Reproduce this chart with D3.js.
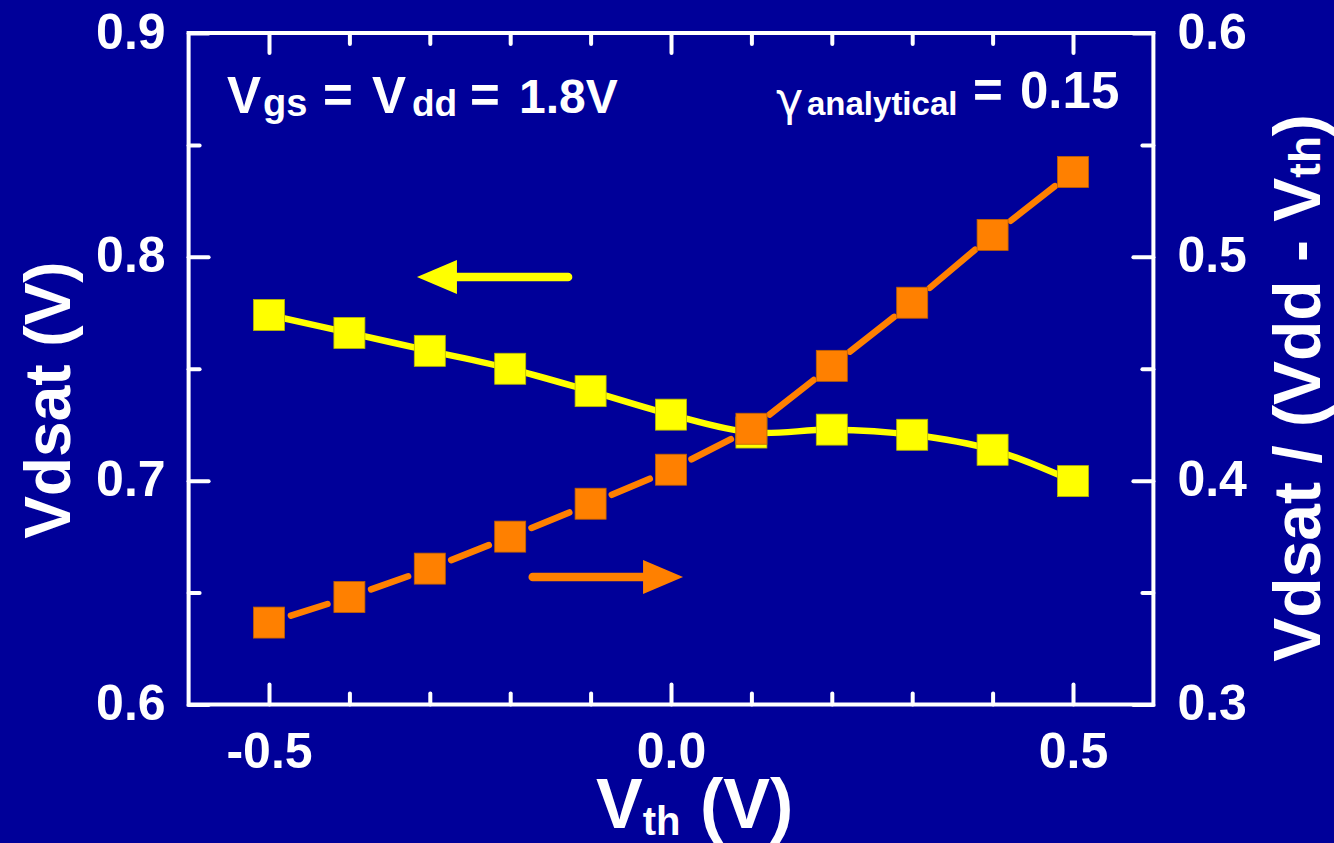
<!DOCTYPE html>
<html>
<head>
<meta charset="utf-8">
<script src="https://cdn.jsdelivr.net/npm/d3@7"></script>
<style>
  html, body { margin: 0; padding: 0; background: #000099; }
  svg { display: block; }
  text { font-family: Arial, "Liberation Sans", sans-serif; font-weight: bold; fill: #fff; }
</style>
</head>
<body>
<div id="chart"></div>
<script>
const WIDTH  = 1334;
const HEIGHT = 843;

// data
const vth      = [-0.5, -0.4, -0.3, -0.2, -0.1, 0.0, 0.1, 0.2, 0.3, 0.4, 0.5];
const vdsat    = [0.774, 0.766, 0.758, 0.750, 0.740, 0.7295, 0.7215, 0.7228, 0.7205, 0.7138, 0.6998];
const vdsatRel = [0.3366, 0.348, 0.3607, 0.375, 0.3897, 0.4049, 0.4232, 0.4513, 0.4795, 0.5098, 0.5379];

const xMajor  = [-0.5, 0.0, 0.5];
const xMinor  = [-0.4, -0.3, -0.2, -0.1, 0.1, 0.2, 0.3, 0.4];
const yLMajor = [0.6, 0.7, 0.8, 0.9];
const yLMinor = [0.65, 0.75, 0.85];
const yRMajor = [0.3, 0.4, 0.5, 0.6];
const yRMinor = [0.35, 0.45, 0.55];

const BG     = "#000099";
const YELLOW = "#ffff00";
const ORANGE = "#ff8000";

const svg = d3.select("#chart").append("svg")
  .attr("width", WIDTH).attr("height", HEIGHT);

svg.append("rect").attr("width", WIDTH).attr("height", HEIGHT).attr("fill", BG);

const x  = d3.scaleLinear().domain([-0.6, 0.6]).range([188.6, 1153.4]);
const yL = d3.scaleLinear().domain([0.6, 0.9]).range([704.5, 33]);
const yR = d3.scaleLinear().domain([0.3, 0.6]).range([704.5, 33]);

const [x0, x1] = x.range();
const [y0, y1] = yL.range();

// axes: major + minor ticks on all sides, pointing inward
function styleAxis(g) {
  g.select(".domain").remove();
  g.selectAll(".tick line")
    .attr("stroke", "#fff")
    .attr("stroke-width", 4)
    .attr("stroke-linecap", "round");
  g.selectAll(".tick text")
    .attr("fill", "#fff")
    .style("font-size", "50px")
    .style("font-family", "Arial, 'Liberation Sans', sans-serif")
    .style("font-weight", "bold");
}
// plain hyphen instead of d3's unicode minus
const fmt = d => d3.format(".1f")(d).replace("\u2212", "-");

svg.append("g").attr("transform", `translate(0,${y0})`)
  .call(d3.axisBottom(x).tickValues(xMajor).tickSize(-20).tickPadding(28).tickFormat(fmt))
  .call(styleAxis);
svg.append("g").attr("transform", `translate(0,${y0})`)
  .call(d3.axisBottom(x).tickValues(xMinor).tickSize(-11).tickFormat(""))
  .call(styleAxis);
svg.append("g").attr("transform", `translate(0,${y1})`)
  .call(d3.axisTop(x).tickValues(xMajor).tickSize(-20).tickFormat(""))
  .call(styleAxis);
svg.append("g").attr("transform", `translate(0,${y1})`)
  .call(d3.axisTop(x).tickValues(xMinor).tickSize(-11).tickFormat(""))
  .call(styleAxis);

svg.append("g").attr("transform", `translate(${x0},0)`)
  .call(d3.axisLeft(yL).tickValues(yLMajor).tickSize(-20).tickPadding(23).tickFormat(fmt))
  .call(styleAxis);
svg.append("g").attr("transform", `translate(${x0},0)`)
  .call(d3.axisLeft(yL).tickValues(yLMinor).tickSize(-11).tickFormat(""))
  .call(styleAxis);
svg.append("g").attr("transform", `translate(${x1},0)`)
  .call(d3.axisRight(yR).tickValues(yRMajor).tickSize(-20).tickPadding(24).tickFormat(fmt))
  .call(styleAxis);
svg.append("g").attr("transform", `translate(${x1},0)`)
  .call(d3.axisRight(yR).tickValues(yRMinor).tickSize(-11).tickFormat(""))
  .call(styleAxis);

svg.selectAll(".tick text").attr("dy", "0.3em");
svg.selectAll("g").filter(function() { return d3.select(this).attr("transform") === `translate(0,${y0})`; })
  .selectAll(".tick text").attr("dy", "0.71em");

// frame
svg.append("rect")
  .attr("x", x0).attr("y", y1)
  .attr("width", x1 - x0).attr("height", y0 - y1)
  .attr("fill", "none").attr("stroke", "#fff").attr("stroke-width", 4);

const SQ = 31;

// yellow series (left axis) - smooth line through squares
const yellowPts = vth.map((v, i) => [x(v), yL(vdsat[i])]);
svg.append("path")
  .attr("d", d3.line().curve(d3.curveCatmullRom)(yellowPts))
  .attr("fill", "none").attr("stroke", YELLOW).attr("stroke-width", 6.5);
svg.append("g").selectAll("rect").data(yellowPts).join("rect")
  .attr("x", d => d[0] - SQ / 2).attr("y", d => d[1] - SQ / 2)
  .attr("width", SQ).attr("height", SQ)
  .attr("fill", YELLOW).attr("stroke", "#b8b800").attr("stroke-width", 0.8);

// orange series (right axis) - segments with a gap at each symbol
const orangePts = vth.map((v, i) => [x(v), yR(vdsatRel[i])]);
const GAP = 23;
const segs = d3.pairs(orangePts).map(([a, b]) => {
  const dx = b[0] - a[0], dy = b[1] - a[1];
  const len = Math.hypot(dx, dy);
  const ux = dx / len, uy = dy / len;
  return [[a[0] + ux * GAP, a[1] + uy * GAP], [b[0] - ux * GAP, b[1] - uy * GAP]];
});
svg.append("g").selectAll("path").data(segs).join("path")
  .attr("d", d => d3.line()(d))
  .attr("fill", "none").attr("stroke", ORANGE)
  .attr("stroke-width", 6.5).attr("stroke-linecap", "round");
svg.append("g").selectAll("rect").data(orangePts).join("rect")
  .attr("x", d => d[0] - SQ / 2).attr("y", d => d[1] - SQ / 2)
  .attr("width", SQ).attr("height", SQ)
  .attr("fill", ORANGE).attr("stroke", "#c06000").attr("stroke-width", 0.8);

// arrows pointing to each series' axis
function arrow(xa, xb, yp, color) {
  const ax = x(xa), bx = x(xb);
  const dir = Math.sign(bx - ax);
  const headLen = 40, headHalf = 17;
  svg.append("line")
    .attr("x1", ax).attr("y1", yp)
    .attr("x2", bx - dir * headLen + dir * 2).attr("y2", yp)
    .attr("stroke", color).attr("stroke-width", 8.5).attr("stroke-linecap", "round");
  svg.append("path")
    .attr("d", `M${bx},${yp} L${bx - dir * headLen},${yp - headHalf} L${bx - dir * headLen},${yp + headHalf} Z`)
    .attr("fill", color);
}
arrow(-0.128, -0.316, yL(0.791), YELLOW);
arrow(-0.172, 0.015, yR(0.357), ORANGE);

// annotations
const t1 = svg.append("text").attr("y", 113).style("font-size", "51px");
t1.append("tspan").attr("x", 227).text("V");
t1.append("tspan").attr("x", 263).attr("dy", 3).style("font-size", "38px").text("gs");
t1.append("tspan").attr("x", 323).attr("dy", -3).text("=");
t1.append("tspan").attr("x", 372).text("V");
t1.append("tspan").attr("x", 412).attr("dy", 3).style("font-size", "37px").text("dd");
t1.append("tspan").attr("x", 470).attr("dy", -3).text("=");
t1.append("tspan").attr("x", 519).style("font-size", "48px").text("1.8V");

const t2 = svg.append("text").attr("y", 108).style("font-size", "51px");
t2.append("tspan").attr("x", 776).attr("dy", 7).style("font-size", "46px").style("font-weight", "normal")
  .style("font-family", "'DejaVu Sans', sans-serif").text("γ");
t2.append("tspan").attr("x", 807).style("font-size", "33px").text("analytical");
t2.append("tspan").attr("x", 973).attr("dy", -7).text("=");
t2.append("tspan").attr("x", 1020).text("0.15");

// axis titles
const tx = svg.append("text").attr("x", 596).attr("y", 828).style("font-size", "70px");
tx.append("tspan").text("V");
tx.append("tspan").attr("dy", 7).style("font-size", "40px").text("th");
tx.append("tspan").attr("dy", -7).text(" (V)");

svg.append("text")
  .attr("transform", "translate(70,400) rotate(-90)")
  .attr("text-anchor", "middle").style("font-size", "64px")
  .text("Vdsat (V)");

const tr = svg.append("text")
  .attr("transform", "translate(1320,388) rotate(-90)")
  .attr("text-anchor", "middle").style("font-size", "66px");
tr.append("tspan").text("Vdsat / (Vdd - V");
tr.append("tspan").style("font-size", "44px").text("th");
tr.append("tspan").text(")");
</script>
</body>
</html>
